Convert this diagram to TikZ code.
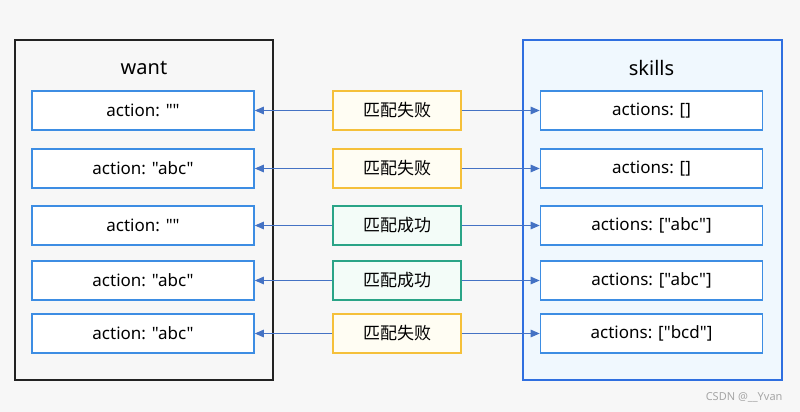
\documentclass[tikz,border=0pt]{standalone}
\usepackage{fontspec}
\newfontfamily\latin{Noto Sans}
\newfontfamily\cjk{Noto Sans CJK SC}
\usetikzlibrary{arrows.meta}
\definecolor{bgcol}{HTML}{F7F7F7}
\definecolor{wantline}{HTML}{222222}
\definecolor{skillline}{HTML}{2F6FE0}
\definecolor{skillfill}{HTML}{F0F8FE}
\definecolor{itemline}{HTML}{3D8DE3}
\definecolor{failline}{HTML}{F5C03A}
\definecolor{failfill}{HTML}{FFFDF3}
\definecolor{okline}{HTML}{2AA487}
\definecolor{okfill}{HTML}{F3FCF8}
\definecolor{linkcol}{HTML}{4472C4}
\begin{document}
\begin{tikzpicture}[x=1pt,y=-1pt,
  item/.style={draw=itemline, fill=white, line width=1.6pt, minimum width=222pt, minimum height=39pt, inner sep=0pt, font=\latin\fontsize{17}{20}\selectfont},
  fail/.style={draw=failline, fill=failfill, line width=1.6pt, minimum width=128pt, minimum height=39pt, inner sep=0pt, font=\cjk\fontsize{17}{20}\selectfont},
  ok/.style={fail, draw=okline, fill=okfill},
  link/.style={draw=linkcol, line width=1.1pt, -{Triangle[length=9pt,width=7.5pt]}}]
\fill[bgcol] (0,0) rectangle (800,412);
% outer boxes
\node[draw=wantline, line width=1.8pt, fill=bgcol, minimum width=258pt, minimum height=340pt] (want) at (144,210){};
\node[font=\latin\fontsize{20}{24}\selectfont] (wanttitle) at (144,68){want};
\node[draw=skillline, line width=1.5pt, fill=skillfill, minimum width=259pt, minimum height=340pt] (skills) at (652.5,210){};
\node[font=\latin\fontsize{20}{24}\selectfont] (skillstitle) at (651.5,68){skills};
% row 1
\node[item] (w1) at (143,110.5){action: ""};
\node[fail] (m1) at (397,110.5){匹配失败};
\node[item] (s1) at (651.5,110.5){actions: []};
\draw[link] (m1) -- (w1);
\draw[link] (m1) -- (s1);
% row 2
\node[item] (w2) at (143,168.5){action: "abc"};
\node[fail] (m2) at (397,168.5){匹配失败};
\node[item] (s2) at (651.5,168.5){actions: []};
\draw[link] (m2) -- (w2);
\draw[link] (m2) -- (s2);
% row 3
\node[item] (w3) at (143,225.5){action: ""};
\node[ok] (m3) at (397,225.5){匹配成功};
\node[item] (s3) at (651.5,225.5){actions: ["abc"]};
\draw[link] (m3) -- (w3);
\draw[link] (m3) -- (s3);
% row 4
\node[item] (w4) at (143,280.5){action: "abc"};
\node[ok] (m4) at (397,280.5){匹配成功};
\node[item] (s4) at (651.5,280.5){actions: ["abc"]};
\draw[link] (m4) -- (w4);
\draw[link] (m4) -- (s4);
% row 5
\node[item] (w5) at (143,333.5){action: "abc"};
\node[fail] (m5) at (397,333.5){匹配失败};
\node[item] (s5) at (651.5,333.5){actions: ["bcd"]};
\draw[link] (m5) -- (w5);
\draw[link] (m5) -- (s5);
\node[anchor=east, text=gray!70, font=\latin\fontsize{11}{13}\selectfont] (mark) at (786,397){CSDN @\_\_Yvan};
\end{tikzpicture}
\end{document}
